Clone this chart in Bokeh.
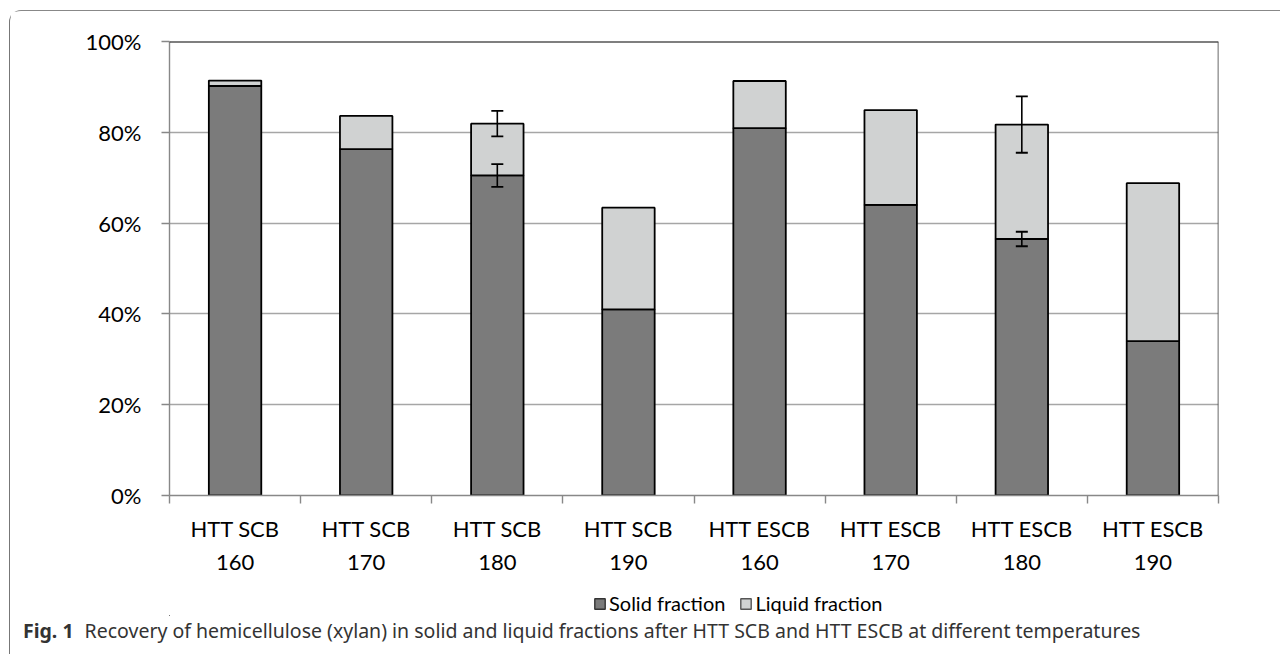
from bokeh.plotting import figure
from bokeh.models import (Range1d, LinearAxis, FixedTicker, ColumnDataSource, Whisker,
                          TeeHead, Span, Legend, LegendItem, Div, Column)
from bokeh.embed import file_html
from bokeh.resources import INLINE

categories = ["HTT SCB\n160", "HTT SCB\n170", "HTT SCB\n180", "HTT SCB\n190",
              "HTT ESCB\n160", "HTT ESCB\n170", "HTT ESCB\n180", "HTT ESCB\n190"]
solid = [90.2, 76.3, 70.5, 41.0, 80.9, 64.0, 56.5, 34.0]
liquid = [1.2, 7.3, 11.4, 22.4, 10.4, 20.9, 25.2, 34.8]
solid_err = [0, 0, 2.5, 0, 0, 0, 1.6, 0]
total_err = [0, 0, 2.8, 0, 0, 0, 6.2, 0]
y_ticks = [0, 20, 40, 60, 80, 100]
series_names = ["Solid fraction", "Liquid fraction"]
caption_bold = "Fig. 1"
caption_text = "Recovery of hemicellulose (xylan) in solid and liquid fractions after HTT SCB and HTT ESCB at different temperatures"

FONT = "Lato"
DARK = "#7b7b7b"
LIGHT = "#d0d2d2"
W = 1270

n = len(categories)
xs = [i + 0.5 for i in range(n)]
total = [s + l for s, l in zip(solid, liquid)]

p = figure(width=W, height=573, output_backend="svg", toolbar_location=None,
           x_range=Range1d(0, n), y_range=Range1d(0, 100),
           min_border_left=159, min_border_right=62, min_border_top=30, min_border_bottom=89,
           x_axis_location=None, y_axis_location=None)
p.outline_line_color = None
p.xgrid.visible = False
p.ygrid.ticker = FixedTicker(ticks=y_ticks)
p.ygrid.grid_line_color = "#a6a6a6"
p.ygrid.grid_line_width = 1.4

src = ColumnDataSource(dict(x=xs, solid=solid, total=total))
r_solid = p.vbar(x="x", bottom=0, top="solid", width=0.4, source=src,
                 fill_color=DARK, line_color="black", line_width=1.8)
r_liquid = p.vbar(x="x", bottom="solid", top="total", width=0.4, source=src,
                  fill_color=LIGHT, line_color="black", line_width=1.8)

for vals, errs in ((solid, solid_err), (total, total_err)):
    idx = [i for i, e in enumerate(errs) if e > 0]
    wsrc = ColumnDataSource(dict(x=[xs[i] for i in idx],
                                 upper=[vals[i] + errs[i] for i in idx],
                                 lower=[vals[i] - errs[i] for i in idx]))
    w = Whisker(base="x", upper="upper", lower="lower", source=wsrc, level="annotation",
                line_color="black", line_width=1.6,
                upper_head=TeeHead(size=12, line_color="black", line_width=1.8),
                lower_head=TeeHead(size=12, line_color="black", line_width=1.8))
    p.add_layout(w)

p.add_layout(Span(location=100, dimension="width", line_color="black", line_width=2))
p.add_layout(Span(location=n, dimension="height", line_color="#444", line_width=1.6))

# y axis
yax = LinearAxis(ticker=FixedTicker(ticks=y_ticks),
                 major_label_overrides={t: f"{t}%" for t in y_ticks})
yax.axis_line_color = "#888"
yax.axis_line_width = 1.4
yax.major_tick_line_color = "#888"
yax.major_tick_line_width = 1.4
yax.major_tick_out = 8
yax.major_tick_in = 0
yax.minor_tick_line_color = None
yax.major_label_standoff = 20
yax.major_label_text_font = FONT
yax.major_label_text_font_size = "22px"
yax.major_label_text_color = "black"
p.add_layout(yax, "left")

# x axis: boundary ticks
xax = LinearAxis(ticker=FixedTicker(ticks=list(range(n + 1))),
                 major_label_overrides={i: " " for i in range(n + 1)})
xax.axis_line_color = "#888"
xax.axis_line_width = 1.4
xax.major_tick_line_color = "#888"
xax.major_tick_line_width = 1.4
xax.major_tick_out = 8
xax.major_tick_in = 0
xax.minor_tick_line_color = None
xax.major_label_standoff = 0
xax.major_label_text_font_size = "1px"
p.add_layout(xax, "below")

# x axis: category labels
lax = LinearAxis(ticker=FixedTicker(ticks=xs),
                 major_label_overrides={x: c for x, c in zip(xs, categories)})
lax.axis_line_color = None
lax.major_tick_line_color = None
lax.minor_tick_line_color = None
lax.major_label_standoff = 1
lax.major_label_text_font = FONT
lax.major_label_text_font_size = "22px"
lax.major_label_text_color = "black"
lax.major_label_text_line_height = 1.25
p.add_layout(lax, "below")

# legend strip: its own small figure (so the chart frame does not clip it);
# the series renderers here use the same data but lie outside this strip's view
lf = figure(width=W, height=32, output_backend="svg", toolbar_location=None,
            x_range=Range1d(1000, 1001), y_range=Range1d(1000, 1001), min_border=0,
            x_axis_location=None, y_axis_location=None)
lf.outline_line_color = None
lf.grid.visible = False
k_solid = lf.vbar(x="x", bottom=0, top="solid", width=0.4, source=src,
                  fill_color=DARK, line_color="#333", line_width=1.4)
k_liquid = lf.vbar(x="x", bottom="solid", top="total", width=0.4, source=src,
                   fill_color=LIGHT, line_color="#555", line_width=1.4)
legend = Legend(items=[LegendItem(label=series_names[0], renderers=[k_solid], index=0),
                       LegendItem(label=series_names[1], renderers=[k_liquid], index=0)],
                orientation="horizontal", location=(424, 1),
                glyph_width=13, glyph_height=13, label_standoff=3, spacing=14,
                padding=0, margin=0, border_line_color=None, background_fill_alpha=0,
                label_text_font=FONT, label_text_font_size="20px", label_text_color="black",
                label_height=22)
lf.add_layout(legend, "center")

cap = Div(text=f'<span style="font-weight:bold">{caption_bold}</span>'
               f'<span style="margin-left:11px">{caption_text}</span>',
          width=W - 20, height=28,
          styles={"font-family": "Noto Sans", "font-size": "19.5px", "color": "#333",
                  "line-height": "20px", "padding-left": "8px", "white-space": "nowrap"})

layout = Column(p, lf, cap, spacing=0,
                styles={"border-left": "1.3px solid #777", "border-top": "1.3px solid #888",
                        "border-top-left-radius": "12px", "margin-left": "9px",
                        "margin-top": "10px"})

open("out.html", "w").write(file_html(layout, INLINE))
